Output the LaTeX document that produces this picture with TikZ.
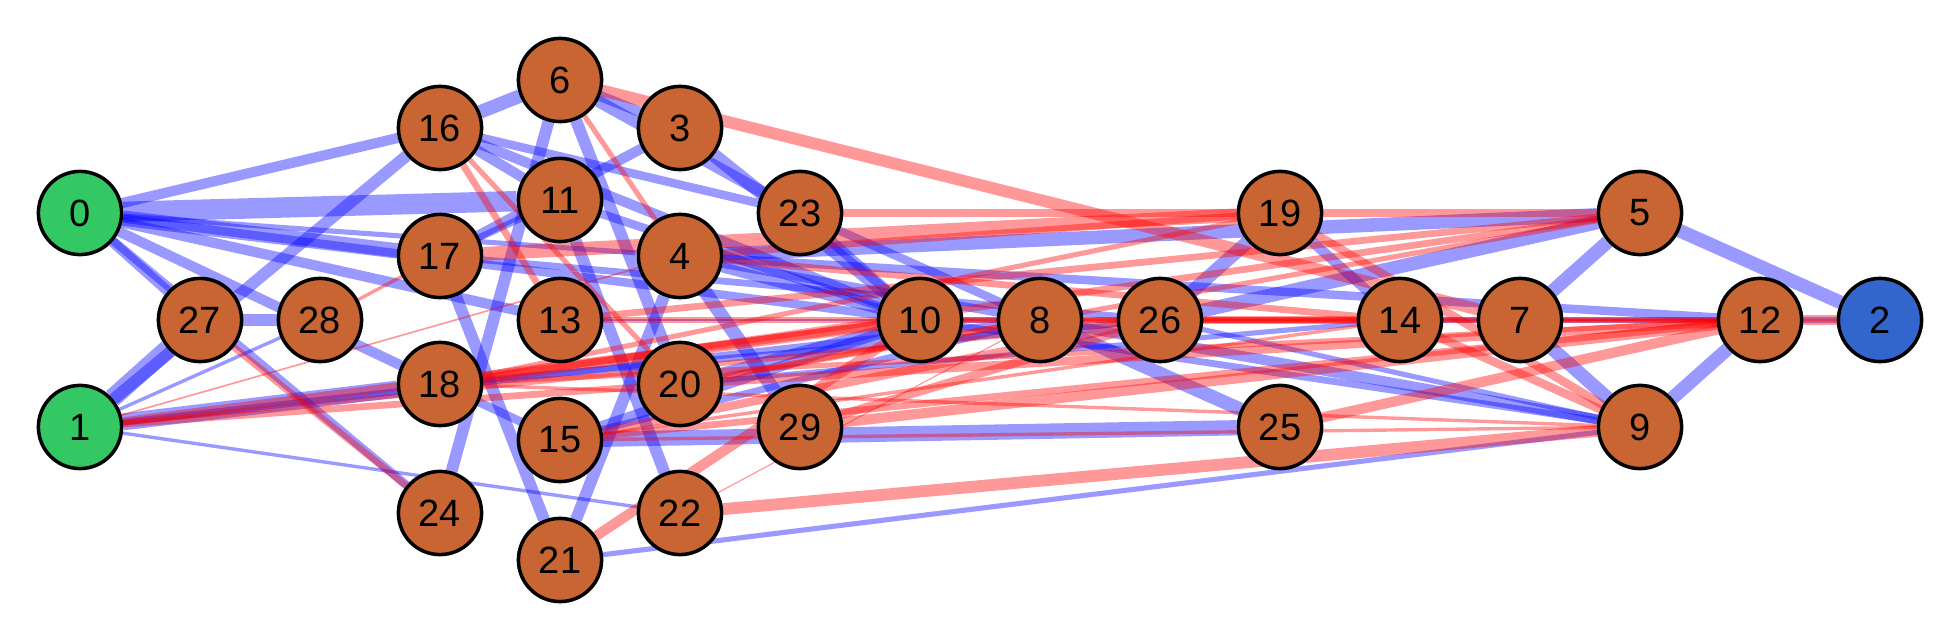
\documentclass[tikz,border=0pt]{standalone}
\usepackage{fontspec}
\setmainfont{Liberation Sans}
\usetikzlibrary{backgrounds}
\definecolor{nbrown}{RGB}{200,101,50}
\definecolor{ngreen}{RGB}{51,200,100}
\definecolor{nblue}{RGB}{51,102,204}
\begin{document}
\begin{tikzpicture}[x=0.5pt,y=-0.5pt,
  nd/.style={circle, draw=black, line width=1.75pt, fill=nbrown, minimum size=41.6pt, inner sep=0pt, font=\fontsize{19pt}{21pt}\selectfont},
  pe/.style={draw=blue, draw opacity=0.4, line width=#1*0.85pt},
  ne/.style={draw=red, draw opacity=0.4, line width=#1*0.85pt}]
\useasboundingbox (0,0) rectangle (1960,640);
\node[nd, fill=ngreen] (n0) at (80,213) {0};
\node[nd, fill=ngreen] (n1) at (80,427) {1};
\node[nd] (n27) at (200,320) {27};
\node[nd] (n28) at (320,320) {28};
\node[nd] (n16) at (440,128) {16};
\node[nd] (n17) at (440,256) {17};
\node[nd] (n18) at (440,384) {18};
\node[nd] (n24) at (440,513) {24};
\node[nd] (n6) at (560,80) {6};
\node[nd] (n11) at (560,200) {11};
\node[nd] (n13) at (560,320) {13};
\node[nd] (n15) at (560,440) {15};
\node[nd] (n21) at (560,560) {21};
\node[nd] (n3) at (680,128) {3};
\node[nd] (n4) at (680,256) {4};
\node[nd] (n20) at (680,384) {20};
\node[nd] (n22) at (680,513) {22};
\node[nd] (n23) at (800,213) {23};
\node[nd] (n29) at (800,427) {29};
\node[nd] (n10) at (920,320) {10};
\node[nd] (n8) at (1040,320) {8};
\node[nd] (n26) at (1160,320) {26};
\node[nd] (n19) at (1280,213) {19};
\node[nd] (n25) at (1280,427) {25};
\node[nd] (n14) at (1400,320) {14};
\node[nd] (n7) at (1520,320) {7};
\node[nd] (n5) at (1640,213) {5};
\node[nd] (n9) at (1640,427) {9};
\node[nd] (n12) at (1760,320) {12};
\node[nd, fill=nblue] (n2) at (1880,320) {2};
\begin{scope}[on background layer]
\foreach \a/\b/\w in {0/16/6, 0/11/12, 0/17/9, 0/10/5, 0/13/6, 0/18/6, 0/27/6, 0/24/5, 0/4/3,
  1/27/11, 1/16/7, 1/28/2, 1/18/10, 1/8/4, 1/22/2,
  27/28/7,
  16/6/8, 16/11/6, 16/10/6, 16/23/5,
  6/3/6, 6/23/7, 6/20/7, 6/24/7,
  3/10/8, 3/17/6,
  11/22/7, 11/10/5, 11/17/4,
  17/21/7, 17/26/4,
  13/10/1.5,
  18/15/5, 18/26/4,
  15/25/9, 15/10/6, 15/8/4,
  20/10/6, 20/14/3,
  4/29/8, 4/21/7, 4/5/8, 4/12/5, 4/10/6, 4/8/5,
  23/10/6, 23/8/5,
  21/9/3,
  10/8/4, 10/9/4,
  8/25/8, 8/9/6,
  26/19/8, 26/5/8, 26/9/3,
  19/14/6,
  14/7/4,
  7/5/8, 7/9/8, 7/2/4,
  5/2/8, 9/12/8}
  \draw[pe=\w] (n\a) -- (n\b);
\foreach \a/\b/\w in {1/4/1, 1/10/5, 1/20/4, 1/26/3,
  27/24/4, 28/17/2,
  16/13/4, 16/20/3,
  6/7/7, 6/4/3,
  17/19/8,
  13/8/3, 13/5/4, 4/19/4,
  18/10/6, 18/5/4, 18/12/3, 18/9/2, 18/19/3,
  15/12/4, 15/9/2, 15/26/5, 15/14/2,
  20/12/5, 20/8/4, 20/5/3,
  4/14/4, 23/5/5,
  22/9/7, 22/8/0.7,
  21/10/6,
  29/12/6, 29/26/5,
  10/2/1.5, 10/12/2, 8/12/3, 8/14/4,
  26/14/5,
  19/9/5, 14/9/5, 7/12/1.5,
  12/2/6, 25/12/6}
  \draw[ne=\w] (n\a) -- (n\b);
\end{scope}
\end{tikzpicture}
\end{document}
